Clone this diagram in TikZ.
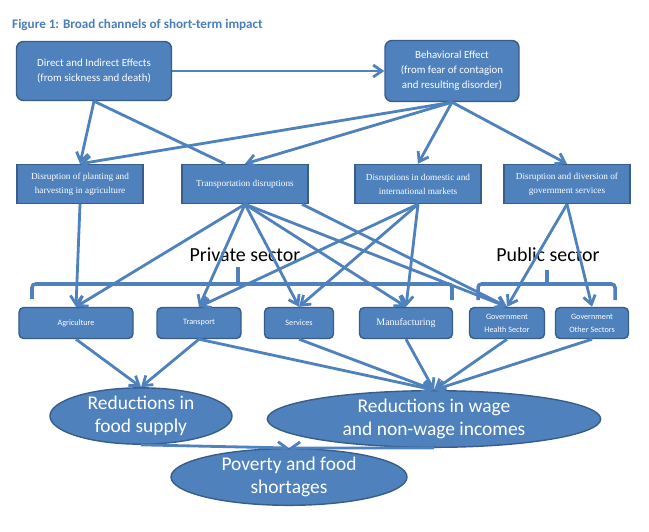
\documentclass[tikz,border=0pt]{standalone}
\usepackage{fontspec}
\setmainfont{Carlito}
\newfontfamily\cambria{Liberation Serif}
\usetikzlibrary{arrows.meta,shapes.geometric}
\definecolor{boxblue}{HTML}{4F81BD}
\definecolor{edgeblue}{HTML}{385D8A}
\definecolor{titleblue}{HTML}{4A7EBB}

\begin{document}
\begin{tikzpicture}[x=0.03cm, y=-0.03cm,
  effect/.style={draw=edgeblue, line width=1.2pt, fill=boxblue, rounded corners=6pt, text=white, align=center, font=\fontsize{9.3}{12.7}\selectfont, inner sep=0pt},
  channel/.style={draw=edgeblue, line width=1.2pt, fill=boxblue, text=white, align=center, font=\cambria\fontsize{7.9}{12}\selectfont, minimum width=3.78cm, minimum height=1.17cm, inner sep=0pt},
  sector/.style={draw=edgeblue, line width=1.2pt, fill=boxblue, rounded corners=4pt, text=white, align=center, font=\fontsize{7}{11}\selectfont, minimum height=0.93cm, inner sep=0pt},
  outcome/.style={ellipse, draw=edgeblue, line width=1.2pt, fill=boxblue, text=white, align=center, font=\fontsize{16.6}{19.8}\selectfont, inner sep=0pt},
  link/.style={draw=boxblue, line width=2.4pt, -{Straight Barb[length=2.6mm,width=3.6mm]}},
  brace/.style={draw=boxblue, line width=3pt, rounded corners=3pt}]
\useasboundingbox (0,0) rectangle (649,531);
\node[anchor=west, inner sep=0pt, text=titleblue, font=\bfseries\fontsize{11.2}{13}\selectfont] (title) at (12,25) {Figure 1: Broad channels of short-term impact};

\node[effect, minimum width=4.65cm, minimum height=1.77cm] (direct) at (94,71) {Direct and Indirect Effects\\(from sickness and death)};
\node[effect, minimum width=4.02cm, minimum height=1.83cm] (behav) at (452,71) {Behavioral Effect\\(from fear of contagion\\and resulting disorder)};

\node[channel] (plant) at (80,184) {Disruption of planting and\\harvesting in agriculture};
\node[channel] (transp) at (245,184) {Transportation disruptions};
\node[channel] (market) at (418,184) {Disruptions in domestic and\\international markets};
\node[channel] (govsrv) at (567,184) {Disruption and diversion of\\government services};

\node[font=\fontsize{17}{20}\selectfont] (private) at (245,255) {Private sector};
\node[font=\fontsize{17}{20}\selectfont] (public) at (548,255) {Public sector};
\draw[brace] (32,299) -- (32,284) -- (452,284) -- (452,300);
\draw[brace] (238,284) -- (238,267);
\draw[brace] (478,300) -- (478,284) -- (615,284) -- (615,300);
\draw[brace] (547,284) -- (547,270);

\node[sector, minimum width=3.42cm] (agri) at (76,323) {Agriculture};
\node[sector, minimum width=2.52cm] (trans) at (199,323) {Transport};
\node[sector, minimum width=2.07cm] (serv) at (299,323) {Services};
\node[sector, minimum width=2.79cm, font=\cambria\fontsize{8.5}{10}\selectfont] (manu) at (406,323) {Manufacturing};
\node[sector, minimum width=2.25cm] (health) at (507,323) {Government\\Health Sector};
\node[sector, minimum width=2.19cm] (other) at (592,323) {Government\\Other Sectors};

\node[outcome, minimum width=5.46cm, minimum height=1.38cm] (food) at (141,416) {Reductions in\\food supply};
\node[outcome, minimum width=10cm, minimum height=1.3cm] (wage) at (434,419) {Reductions in wage\\and non-wage incomes};
\node[outcome, minimum width=7.08cm, minimum height=1.38cm] (pov) at (289,477) {Poverty and food\\shortages};

\draw[link] (direct.east) -- (behav.west);
\draw[link] (direct.south) -- (plant.north);
\draw[draw=boxblue, line width=2.4pt] (direct.south) -- ([xshift=-0.6cm]transp.north);
\draw[link] (behav.south) -- (plant.north);
\draw[link] (behav.south) -- (transp.north);
\draw[link] (behav.south) -- (market.north);
\draw[link] (behav.south) -- (govsrv.north);

\draw[link] (plant.south) -- (agri.north);
\draw[link] (transp.south) -- (agri.north);
\draw[link] (transp.south) -- (trans.north);
\draw[link] (transp.south) -- (serv.north);
\draw[link] (transp.south) -- (manu.north);
\draw[link] (transp.south) -- (health.north);
\draw[link] ([xshift=-0.2cm]transp.south east) -- (health.north);
\draw[link] (market.south) -- (trans.north);
\draw[link] (market.south) -- (serv.north);
\draw[link] (market.south) -- (manu.north);
\draw[link] (govsrv.south) -- (health.north);
\draw[link] (govsrv.south) -- (other.north);

\draw[link] (agri.south) -- (food.north);
\draw[link] (trans.south) -- (food.north);
\draw[link] (trans.south) -- (wage.north);
\draw[link] (serv.south) -- (wage.north);
\draw[link] (manu.south) -- (wage.north);
\draw[link] (health.south) -- (wage.north);
\draw[link] (other.south) -- (wage.north);
\draw[link] (food.south) -- (pov.north);
\draw[link] (wage.south) -- (pov.north);
\end{tikzpicture}
\end{document}
